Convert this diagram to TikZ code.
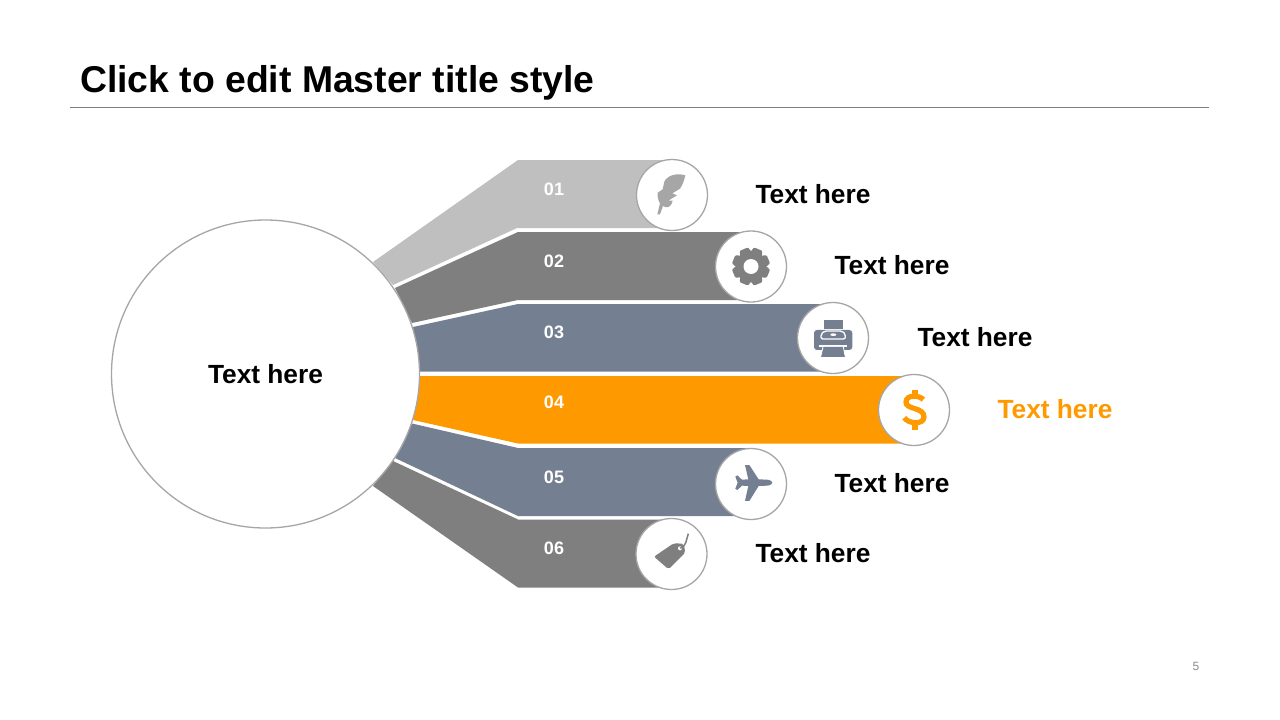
\documentclass[tikz,border=0pt]{standalone}
\usepackage{fontspec}
\setmainfont{Liberation Sans}
\definecolor{bandA}{HTML}{BFBFBF}
\definecolor{bandB}{HTML}{7F7F7F}
\definecolor{bandC}{HTML}{748091}
\definecolor{bandD}{HTML}{FF9900}
\definecolor{ringc}{HTML}{A6A6A6}
\definecolor{iconA}{HTML}{A6A6A6}
\tikzset{
  x=1pt,y=-1pt,
  hubnode/.style={circle,draw=ringc,line width=1.3pt,fill=white,minimum size=308pt,inner sep=0pt,font=\bfseries\fontsize{26.3}{30}\selectfont,text=black},
  iconring/.style={circle,draw=ringc,line width=1.3pt,fill=white,minimum size=71pt,inner sep=0pt},
  numlabel/.style={text=white,font=\bfseries\fontsize{18}{20}\selectfont,inner sep=0pt},
  itemlabel/.style={text=black,font=\bfseries\fontsize{26.3}{30}\selectfont,inner sep=0pt},
  zoomed/.style={x=0.3333pt,y=-0.3333pt}
}
\begin{document}
\begin{tikzpicture}
\useasboundingbox (0,0) rectangle (1280,720);
\fill[white] (0,0) rectangle (1280,720);
% title
\node[anchor=base west,inner sep=0pt,font=\bfseries\fontsize{37.33}{40}\selectfont] (title) at (80,92) {Click to edit Master title style};
\coordinate (ruleL) at (70,107.5);
\coordinate (ruleR) at (1209,107.5);
\draw[color=bandB,line width=0.8pt] (ruleL) -- (ruleR);
% bands
\fill[bandA] (373,262) -- (518,160) -- (672,160) -- (672,228) -- (517,228) -- (393,285) -- cycle;
\fill[bandB] (395,288) -- (518,232) -- (751,232) -- (751,300) -- (518,300) -- (412,323) -- cycle;
\fill[bandC] (413,327) -- (518,304) -- (833,304) -- (833,371.5) -- (420,371.5) -- cycle;
\fill[bandD] (420,376) -- (914,376) -- (914,443.5) -- (518,443.5) -- (413,420) -- cycle;
\fill[bandC] (412,423.5) -- (518,448) -- (751,448) -- (751,516) -- (518,516) -- (395,458) -- cycle;
\fill[bandB] (393,461) -- (518,519.5) -- (672,519.5) -- (672,587.5) -- (518,587.5) -- (373,486) -- cycle;
% hub
\node[hubnode] (hub) at (265.5,374) {Text here};
% number labels
\node[numlabel] (n1) at (554,189) {01};
\node[numlabel] (n2) at (554,261) {02};
\node[numlabel] (n3) at (554,332) {03};
\node[numlabel] (n4) at (554,402) {04};
\node[numlabel] (n5) at (554,477) {05};
\node[numlabel] (n6) at (554,548) {06};
% icon rings
\node[iconring] (r1) at (672,195) {};
\node[iconring] (r2) at (751,266.5) {};
\node[iconring] (r3) at (833,338) {};
\node[iconring] (r4) at (914,410) {};
\node[iconring] (r5) at (751,484) {};
\node[iconring] (r6) at (671.5,554) {};
% item labels
\node[itemlabel] (t1) at (813,194.5) {Text here};
\node[itemlabel] (t2) at (892,265.5) {Text here};
\node[itemlabel] (t3) at (975,337.5) {Text here};
\node[itemlabel,text=bandD] (t4) at (1055,409.5) {Text here};
\node[itemlabel] (t5) at (892,483.5) {Text here};
\node[itemlabel] (t6) at (813,553.5) {Text here};
% feather
\begin{scope}[shift={(630,150)},zoomed]
\fill[iconA] (166,76) .. controls (140,68) and (112,76) .. (103,95) -- (98,118) -- (83,128) .. controls (82,140) and (84,150) .. (90,160) -- (82,193) -- (90,193) -- (99,168) .. controls (110,175) and (122,175) .. (128,152) -- (115,152) -- (141,136) -- (127,130) -- (150,116) .. controls (158,105) and (163,90) .. (166,76) -- cycle;
\end{scope}
% gear
\begin{scope}[shift={(751,266.5)}]
\fill[bandB] (0,0) circle (14.5);
\foreach \a in {0,45,...,315}{
  \fill[bandB,rotate=\a+22.5,rounded corners=1pt] (-4.4,-18.8) -- (4.4,-18.8) -- (6.6,-12) -- (-6.6,-12) -- cycle;
}
\fill[white] (0,0) circle (7.5);
\end{scope}
% printer
\begin{scope}[shift={(790,295)},zoomed]
\fill[bandC] (103,75) -- (160,75) -- (160,103) -- (103,103) -- cycle;
\fill[bandC,rounded corners=3pt] (72,105) rectangle (187,165);
\draw[white,line width=1.3pt,rounded corners=2pt] (93,132) -- (93,117) -- (103,108) -- (157,108) -- (166,117) -- (166,132) -- cycle;
\fill[white] (130,119) ellipse (9 and 4);
\fill[white] (88,150) rectangle (170,156);
\fill[bandC] (99,156) -- (160,156) -- (166,186) -- (92,186) -- cycle;
\draw[white,line width=0.8pt] (99,156) -- (92,186) (160,156) -- (166,186);
\end{scope}
% dollar
\begin{scope}[shift={(790,295)},zoomed]
\draw[bandD,line width=5.2pt] (400,314) .. controls (392,302) and (349,296) .. (348,321) .. controls (347,345) and (402,335) .. (402,366) .. controls (401,392) and (352,385) .. (343,368);
\fill[bandD] (367,284) rectangle (383,300);
\fill[bandD] (367,385) rectangle (383,405);
\end{scope}
% plane
\begin{scope}[shift={(630,440)},zoomed]
\fill[bandC] (336,119) -- (355,118) -- (345,75) -- (358,75) -- (386,118) -- (412,119) .. controls (432,122) and (432,134) .. (412,137) -- (386,138) -- (358,183) -- (345,183) -- (355,138) -- (336,137) -- (322,150) -- (316,146) -- (323,128) -- (316,110) -- (322,106) -- cycle;
\end{scope}
% tag
\begin{scope}[shift={(630,440)},zoomed]
\fill[bandB,rounded corners=2pt] (72,350) -- (131,310) -- (161,311) -- (166,338) -- (116,388) -- cycle;
\fill[white] (150,325) circle (6);
\draw[bandB,line width=1.5pt] (151,325) .. controls (170,318) and (168,300) .. (175,281);
\end{scope}
% page number
\node[inner sep=0pt,text=bandB!90,font=\fontsize{12}{14}\selectfont] (page) at (1196,666) {5};
\end{tikzpicture}
\end{document}
